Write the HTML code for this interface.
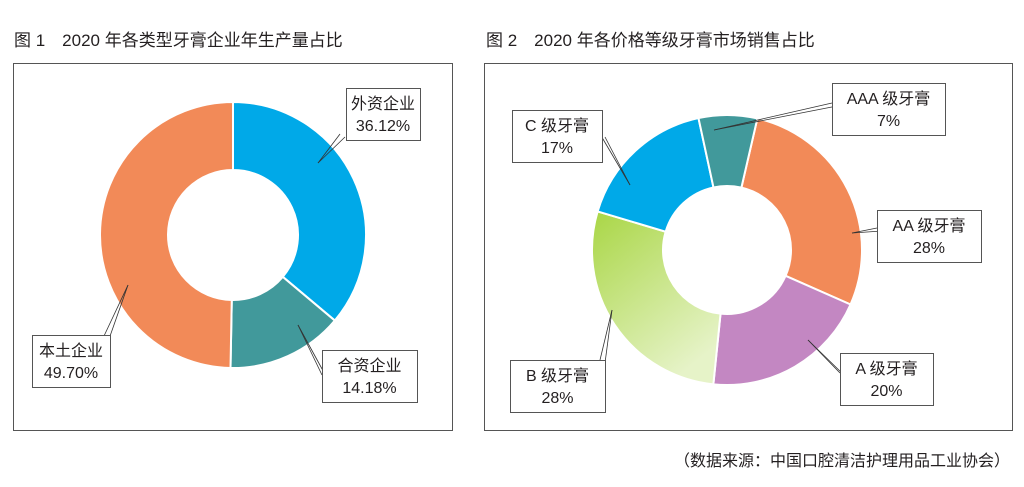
<!DOCTYPE html>
<html><head><meta charset="utf-8">
<style>
body{margin:0;background:#fff;}
svg text{font-family:"Liberation Sans","Noto Sans CJK SC",sans-serif;fill:#231f20;}
</style></head>
<body>
<svg width="1024" height="482" viewBox="0 0 1024 482" xmlns="http://www.w3.org/2000/svg">
<defs>
<linearGradient id="gGreen" x1="0" y1="0" x2="0.6" y2="1">
<stop offset="0" stop-color="#a9d645"/><stop offset="1" stop-color="#e6f3c8"/></linearGradient>
</defs>
<text x="14" y="46" font-size="17">图 1　2020 年各类型牙膏企业年生产量占比</text>
<text x="486" y="46" font-size="17">图 2　2020 年各价格等级牙膏市场销售占比</text>
<rect x="13.5" y="63.5" width="439" height="367" fill="none" stroke="#555" stroke-width="1"/>
<rect x="484.5" y="63.5" width="528" height="367" fill="none" stroke="#555" stroke-width="1"/>
<g id="c1"></g>
<g id="c2"></g>
<g id="labels"></g>
<text x="1010" y="466" font-size="16" text-anchor="end">（数据来源：中国口腔清洁护理用品工业协会）</text>
</svg>
<script>
const cats1 = ["外资企业","合资企业","本土企业"];
const vals1 = [36.12, 14.18, 49.70];
const cols1 = ["#00a9e8","#41999b","#f28a58"];
const cats2 = ["AA 级牙膏","A 级牙膏","B 级牙膏","C 级牙膏","AAA 级牙膏"];
const vals2 = [28, 20, 28, 17, 7];
const cols2 = ["#f28a58","#c387c2","url(#gGreen)","#00a9e8","#41999b"];
const NS="http://www.w3.org/2000/svg";
function pt(cx,cy,r,a){const t=(a-90)*Math.PI/180;return [cx+r*Math.cos(t),cy+r*Math.sin(t)];}
function donut(g,cx,cy,R,r,vals,cols,start,names){
  const tot=vals.reduce((a,b)=>a+b,0);let a=start;
  vals.forEach((v,i)=>{
    const sw=v/tot*360,b=a+sw,lg=sw>180?1:0;
    const p1=pt(cx,cy,R,a),p2=pt(cx,cy,R,b),p3=pt(cx,cy,r,b),p4=pt(cx,cy,r,a);
    const p=document.createElementNS(NS,"path");
    p.setAttribute("d",`M${p1[0]},${p1[1]}A${R},${R} 0 ${lg} 1 ${p2[0]},${p2[1]}L${p3[0]},${p3[1]}A${r},${r} 0 ${lg} 0 ${p4[0]},${p4[1]}Z`);
    p.setAttribute("fill",cols[i]);p.setAttribute("stroke","#fff");p.setAttribute("stroke-width","2");
    
    
    g.appendChild(p);a=b;
  });
}
donut(document.getElementById("c1"),233,235,133,65,vals1,cols1,0,["foreign","joint","domestic"]);
donut(document.getElementById("c2"),727,250,135,64,vals2,cols2,13,["aa","a","b","c","aaa"]);
const L=document.getElementById("labels");
function label(bx,by,bw,bh,l1,l2,ax,ay,tx,ty,name){
  [[ax,ay],[ax+5,ay+3]].forEach(q=>{
    const ln=document.createElementNS(NS,"line");
    ln.setAttribute("x1",q[0]);ln.setAttribute("y1",q[1]);ln.setAttribute("x2",tx);ln.setAttribute("y2",ty);
    ln.setAttribute("stroke","#333");ln.setAttribute("stroke-width","0.8");
    
    
    L.appendChild(ln);
  });
  const r=document.createElementNS(NS,"rect");
  r.setAttribute("x",bx+0.5);r.setAttribute("y",by+0.5);r.setAttribute("width",bw);r.setAttribute("height",bh);
  r.setAttribute("fill","#fff");r.setAttribute("stroke","#555");
  
  
  L.appendChild(r);
  [l1,l2].forEach((s,k)=>{
    const t=document.createElementNS(NS,"text");
    t.setAttribute("x",bx+bw/2);t.setAttribute("y",by+21+k*22);t.setAttribute("font-size","16");t.setAttribute("text-anchor","middle");
    t.textContent=s;
    
    
    L.appendChild(t);
  });
}
function fmt(v){return v.toFixed(2)+"%";}
label(346,88,74,52,cats1[0],fmt(vals1[0]),340,134,318,163,"label-foreign");
label(322,350,95,52,cats1[1],fmt(vals1[1]),322,375,298,325,"label-joint");
label(32,335,78,52,cats1[2],fmt(vals1[2]),104,336,128,285,"label-domestic");
label(877,210,104,52,cats2[0],vals2[0]+"%",877,228,852,233,"label-aa");
label(840,353,93,52,cats2[1],vals2[1]+"%",840,373,808,340,"label-a");
label(510,360,95,52,cats2[2],vals2[2]+"%",600,360,612,310,"label-b");
label(512,110,90,52,cats2[3],vals2[3]+"%",600,134,630,185,"label-c");
label(832,83,113,52,cats2[4],vals2[4]+"%",832,103,714,130,"label-aaa");
</script>
</body></html>
